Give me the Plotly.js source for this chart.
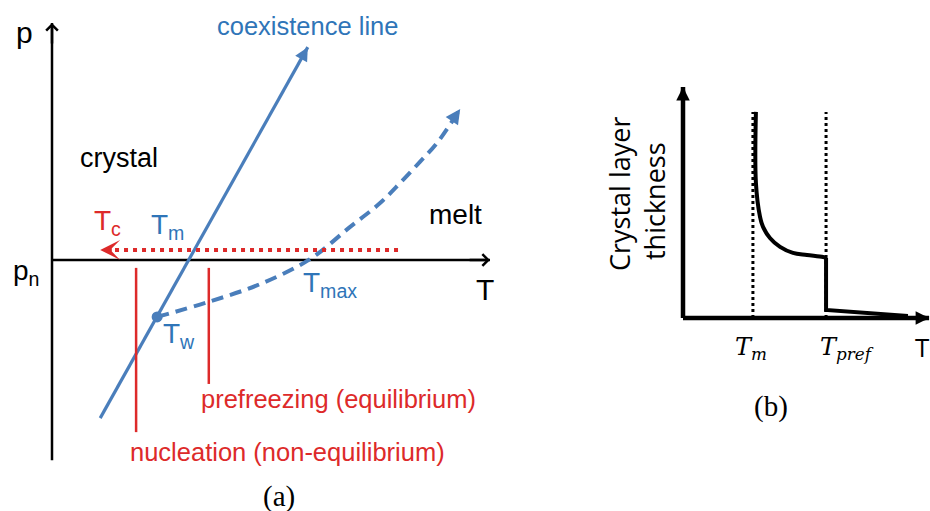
<!DOCTYPE html>
<html>
<head>
<meta charset="utf-8">
<script src="https://cdn.plot.ly/plotly-3.0.1.min.js"></script>
<style>
  html, body { margin: 0; padding: 0; background: #fff; }
  #fig { width: 930px; height: 511px; }
</style>
</head>
<body>
<div id="fig"></div>
<script>
// ---------- (a) p–T phase diagram (schematic units) ----------
const axisA_T = [0, 10];            // horizontal T axis, p = p_n
const axisA_p = [-4.57, 5.41];      // vertical p axis
const coexT = [1.10, 5.84];         // coexistence line
const coexP = [-3.61, 4.86];
const dashT = [2.40, 3.56, 4.75, 5.89, 6.80, 7.49, 7.95, 8.40, 8.79, 9.32];
const dashP = [-1.30, -0.96, -0.55, 0.02, 0.75, 1.30, 1.76, 2.24, 2.67, 3.45];
const pointTw = [2.40, -1.30];
const coolT = [7.90, 1.10];         // cooling path towards T_c
const coolP = [0.23, 0.23];
const nuclT = [1.92, 1.92], nuclP = [-0.18, -3.93];
const prefT = [3.58, 3.58], prefP = [-0.18, -2.83];

// ---------- (b) crystal layer thickness vs T ----------
const axisB_T = [0, 10.70];
const axisB_h = [0, 10.04];
const Tm_b = 3.04, Tpref_b = 6.22, guideTop = 8.96;
const curveT = [3.17, 3.17, 3.35, 3.48, 3.78, 4.22, 4.78, 5.39, 6.09, 6.22];
const curveH = [8.96, 5.87, 4.39, 3.96, 3.48, 3.09, 2.83, 2.74, 2.65, 2.61];
const dropT = [6.22, 6.22, 9.78];
const dropH = [2.61, 0.35, 0.09];

const W = 930, H = 511;
const PX = x => x / W, PY = y => 1 - y / H;

const blue = '#4a7ebb', blueText = '#2f75b8', red = '#dd2a2a';
const sans = 'Liberation Sans, Arial, sans-serif';

function line(x, y, xa, ya, color, width, dash, shape) {
  return { x, y, xaxis: xa, yaxis: ya, type: 'scatter', mode: 'lines',
    line: { color, width, dash: dash || 'solid', shape: shape || 'linear' },
    hoverinfo: 'skip', showlegend: false, cliponaxis: false };
}

const traces = [
  line(axisA_T, [0, 0], 'x', 'y', '#000', 2.5),
  line([0, 0], axisA_p, 'x', 'y', '#000', 2.5),
  line(coexT, coexP, 'x', 'y', blue, 3.2),
  line(dashT, dashP, 'x', 'y', blue, 4, '12px,7px', 'spline'),
  line([coolT[0], coolT[1] + 0.2], coolP, 'x', 'y', red, 4, '4px,5px'),
  line(nuclT, nuclP, 'x', 'y', red, 2.5),
  line(prefT, prefP, 'x', 'y', red, 2.5),
  { x: [pointTw[0]], y: [pointTw[1]], xaxis: 'x', yaxis: 'y', type: 'scatter', mode: 'markers',
    marker: { color: blue, size: 11 }, hoverinfo: 'skip', showlegend: false },

  line([Tm_b, Tm_b], [0, guideTop], 'x2', 'y2', '#000', 3, 'dot'),
  line([Tpref_b, Tpref_b], [0, guideTop], 'x2', 'y2', '#000', 3, 'dot'),
  line(axisB_T, [0, 0], 'x2', 'y2', '#000', 4.5),
  line([0, 0], axisB_h, 'x2', 'y2', '#000', 4.5),
  line(curveT, curveH, 'x2', 'y2', '#000', 4, 'solid', 'spline'),
  line(dropT, dropH, 'x2', 'y2', '#000', 4)
];

// arrowhead drawn at the end of a path, along its last segment
function head(xr, yr, xs, ys, back, kind, width, size, color) {
  const n = xs.length;
  const tx = xs[n - 1], ty = ys[n - 1];
  const dx = tx - xs[n - 2], dy = ty - ys[n - 2];
  const len = Math.hypot(dx, dy);
  return { xref: xr, yref: yr, axref: xr, ayref: yr, x: tx, y: ty,
    ax: tx - back * dx / len, ay: ty - back * dy / len,
    text: '', showarrow: true, arrowhead: kind, arrowwidth: width, arrowsize: size,
    arrowcolor: color, standoff: 0, startstandoff: 0 };
}
function label(text, x, y, size, color, opts) {
  return Object.assign({ xref: 'paper', yref: 'paper', x: PX(x), y: PY(y), text, showarrow: false,
    xanchor: 'center', yanchor: 'middle', font: { family: sans, size, color } }, opts || {});
}
const serif = 'Liberation Serif, Times New Roman, serif';
const math = 'DejaVu Serif, serif';
const open = 'Open Sans, sans-serif';

const annotations = [
  head('x', 'y', [0, 0], axisA_p, 0.5, 4, 2.5, 0.9, '#000'),
  head('x', 'y', axisA_T, [0, 0], 0.5, 4, 2.5, 0.9, '#000'),
  head('x', 'y', coexT, coexP, 0.3, 2, 3.2, 0.85, blue),
  head('x', 'y', dashT, dashP, 0.3, 2, 3.5, 0.85, blue),
  head('x', 'y', coolT, coolP, 0.3, 3, 3.5, 0.95, red),
  head('x2', 'y2', [0, 0], axisB_h, 0.5, 2, 4.5, 0.6, '#000'),
  head('x2', 'y2', axisB_T, [0, 0], 0.5, 2, 4.5, 0.6, '#000'),

  label('p', 24, 33, 30, '#000'),
  label('coexistence line', 307, 26, 25.5, blueText),
  label('crystal', 119, 158, 27, '#000'),
  label('melt', 455, 214, 28, '#000'),
  label('T<sub>c</sub>', 92, 222, 28, red, { xanchor: 'left' }),
  label('T<sub>m</sub>', 149, 226, 28, blueText, { xanchor: 'left' }),
  label('T<sub>max</sub>', 301, 284, 28, blueText, { xanchor: 'left' }),
  label('T<sub>w</sub>', 161, 335, 28, blueText, { xanchor: 'left' }),
  label('T', 485, 289, 30, '#000'),
  label('p<sub>n</sub>', 11, 272, 28, '#000', { xanchor: 'left' }),
  label('prefreezing (equilibrium)', 338, 399, 25.5, red),
  label('nucleation (non-equilibrium)', 287, 452, 25.5, red),
  label('(a)', 279, 496, 29, '#000', { font: { family: serif, size: 29, color: '#000' } }),

  label('Crystal layer', 619, 194, 27, '#000', { textangle: -90, font: { family: open, size: 27, color: '#000' } }),
  label('thickness', 655, 201, 27, '#000', { textangle: -90, font: { family: open, size: 27, color: '#000' } }),
  label('<i>T</i><sub><i>m</i></sub>', 751, 348, 24, '#000', { font: { family: math, size: 24, color: '#000' } }),
  label('<i>T</i><sub><i>pref</i></sub>', 847, 348, 24, '#000', { font: { family: math, size: 24, color: '#000' } }),
  label('T', 913, 347, 26, '#000', { xanchor: 'left', font: { family: open, size: 26, color: '#000' } }),
  label('(b)', 771, 406, 29, '#000', { font: { family: serif, size: 29, color: '#000' } })
];

const hidden = { visible: false, fixedrange: true };
const layout = {
  width: W, height: H,
  margin: { l: 0, r: 0, t: 0, b: 0 },
  paper_bgcolor: '#fff', plot_bgcolor: 'rgba(0,0,0,0)',
  showlegend: false, hovermode: false,
  xaxis: Object.assign({ domain: [0, 500 / W], range: [-52 / 43.8, (500 - 52) / 43.8] }, hidden),
  yaxis: Object.assign({ domain: [0, 1], range: [(260 - 511) / 43.8, 260 / 43.8] }, hidden),
  xaxis2: Object.assign({ domain: [560 / W, 1], range: [(560 - 683) / 23, (930 - 683) / 23], anchor: 'y2' }, hidden),
  yaxis2: Object.assign({ domain: [0, 1], range: [(318 - 511) / 23, 318 / 23], anchor: 'x2' }, hidden),
  annotations
};

Plotly.newPlot('fig', traces, layout, { staticPlot: true, displayModeBar: false });
</script>
</body>
</html>
